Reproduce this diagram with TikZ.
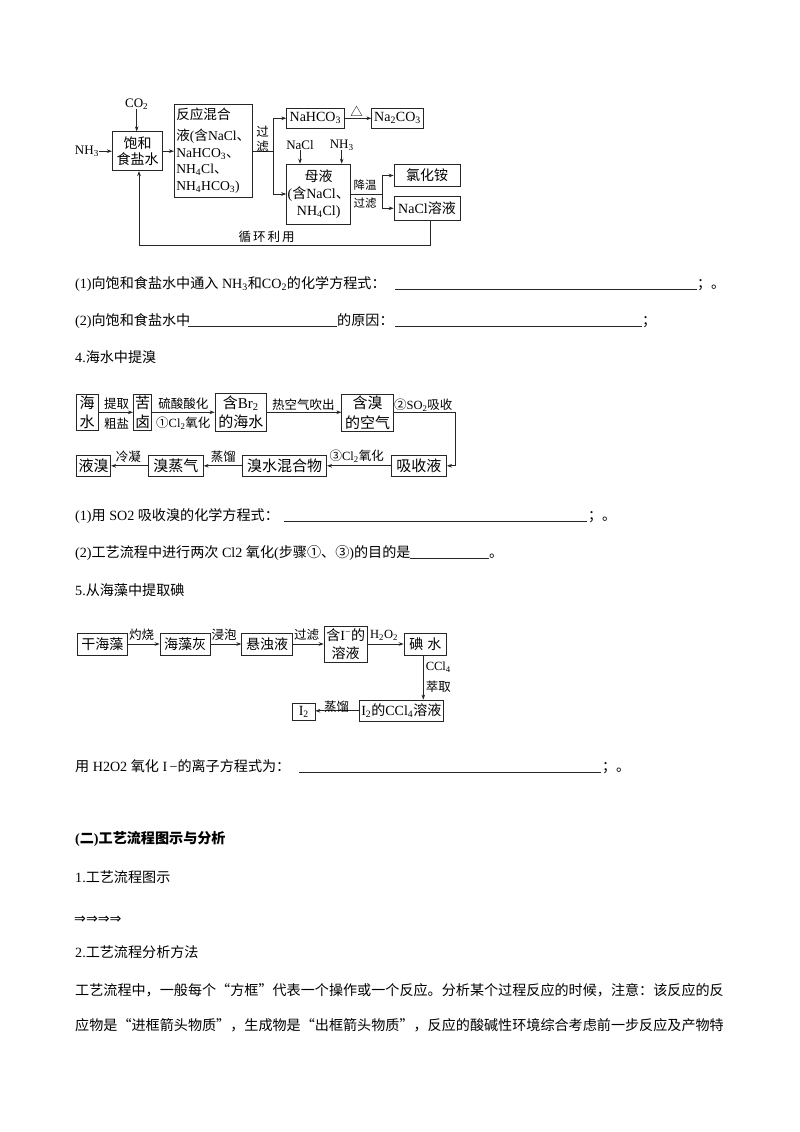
\documentclass[tikz,border=0pt]{standalone}
\usepackage{fontspec}
\setmainfont{Liberation Serif}
\newfontfamily\cjk{Noto Sans CJK SC}
\newfontfamily\cjkq[RawFeature=+fwid]{Noto Sans CJK SC}
\newfontfamily\symf{DejaVu Sans}
\usetikzlibrary{arrows.meta}
\XeTeXinterchartokenstate=1
\newXeTeXintercharclass\CJKcl
\newcount\cjkc
\def\setcjkrange#1#2{\cjkc=#1\relax\loop\XeTeXcharclass\cjkc=\CJKcl\relax\ifnum\cjkc<#2\relax\advance\cjkc by 1\relax\repeat}
\setcjkrange{"4E00}{"9FFF}
\setcjkrange{"3000}{"303F}
\setcjkrange{"FF00}{"FFEF}
\setcjkrange{"2460}{"2473}
\XeTeXcharclass"25B3=\CJKcl
\XeTeXinterchartoks 0 \CJKcl = {\begingroup\cjk}
\XeTeXinterchartoks 4095 \CJKcl = {\begingroup\cjk}
\XeTeXinterchartoks \CJKcl 0 = {\endgroup}
\XeTeXinterchartoks \CJKcl 4095 = {\endgroup}
\newcommand\dn[1]{\textsubscript{#1}}
\newcommand\qo{{\cjkq “}}
\newcommand\qc{{\cjkq ”}}
\begin{document}
\begin{tikzpicture}[x=1pt,y=-1pt,
  ln/.style={line width=0.7pt, draw=black!85},
  arr/.style={ln, -{Stealth[length=5pt,width=3.6pt]}},
  box/.style={ln, draw, inner sep=1pt, align=center, font=\fontsize{14}{16.7}\selectfont},
  bbox/.style={box, font=\fontsize{15}{19.5}\selectfont},
  lbl/.style={inner sep=0pt, align=center, font=\fontsize{12.5}{15}\selectfont},
  tx/.style={anchor=base west, inner sep=0pt, font=\fontsize{14.1}{17}\selectfont},
  ul/.style={line width=0.6pt, draw=black!85},
]
\fill[white] (0,0) rectangle (800,1132);
\useasboundingbox (0,0) rectangle (800,1132);

% ---------- diagram 1 ----------
\node[box, minimum width=50.4, minimum height=39] (sat) at (137.5,151.2) {饱和\\食盐水};
\node[lbl, font=\fontsize{13}{15}\selectfont] (co2) at (136.7,104) {CO\dn2};
\draw[arr] (co2.south) -- (co2.south |- sat.north);
\node[lbl, anchor=east, font=\fontsize{13}{15}\selectfont] (nh3a) at (99,151.5) {NH\dn3};
\draw[arr] (nh3a.east |- sat.west) -- (sat.west);
\node[box, align=left, minimum width=76.7, minimum height=93.3, inner sep=2pt, font=\fontsize{13.6}{16.8}\selectfont] (mix) at (213.3,150.7) {反应混合\\[4pt]液(含NaCl、\\NaHCO\dn3、\\NH\dn4Cl、\\NH\dn4HCO\dn3)};
\draw[arr] (sat.east) -- (sat.east -| mix.west);
\coordinate (sp1) at (273.3,151.7);
\draw[ln] (mix.east |- sp1) -- (sp1);
\node[lbl] (glv) at (262.5,139.5) {过\\滤};
\node[box, minimum width=57.3, minimum height=20] (nahco3) at (315.3,118.3) {NaHCO\dn3};
\node[box, minimum width=51.6, minimum height=20] (na2co3) at (397.5,118.3) {Na\dn2CO\dn3};
\node[box, minimum width=64, minimum height=60] (mother) at (318.7,194) {母液\\(含NaCl、\\NH\dn4Cl)};
\draw[arr] (sp1) |- (nahco3.west);
\draw[arr] (sp1) |- (mother.west);
\draw[arr] (nahco3.east) -- (na2co3.west);
\node[lbl] (delta) at (356.7,111) {△};
\node[lbl, font=\fontsize{13}{15}\selectfont] (nacl) at (300,145) {NaCl};
\node[lbl, font=\fontsize{13}{15}\selectfont] (nh3b) at (341.7,145) {NH\dn3};
\draw[arr] (nacl.south) -- (nacl.south |- mother.north);
\draw[arr] (nh3b.south) -- (nh3b.south |- mother.north);
\coordinate (sp2) at (382.7,194);
\draw[ln] (mother.east) -- (sp2);
\node[box, minimum width=66, minimum height=22.4] (nh4cl) at (427,175.5) {氯化铵};
\node[box, minimum width=66, minimum height=23.3] (naclsol) at (427,208.3) {NaCl溶液};
\draw[arr] (sp2) |- (nh4cl.west);
\draw[arr] (sp2) |- (naclsol.west);
\node[lbl, font=\fontsize{11.5}{18}\selectfont] (cool) at (365,194) {降温\\过滤};
\coordinate (rc) at (139,245);
\draw[arr] ([xshift=3pt]naclsol.south) |- (rc) -- (rc |- sat.south);
\node[lbl] (recyc) at (266.7,237) {循\hspace{2pt}环\hspace{2pt}利\hspace{2pt}用};

% ---------- text block 1 ----------
\node[tx] (t1) at (75,288) {(1)向饱和食盐水中通入 NH\dn3和CO\dn2的化学方程式：};
\draw[ul] (395,289) -- (697,289);
\node[tx] (t1e) at (697,288) {；};
\node[tx] (t1f) at (711,288) {。};
\node[tx] (t2) at (75,325) {(2)向饱和食盐水中};
\draw[ul] (188,326) -- (337,326);
\node[tx] (t2b) at (337,325) {的原因：};
\draw[ul] (395,326) -- (642,326);
\node[tx] (t2e) at (642,325) {；};
\node[tx] (t3) at (75,362) {4.海水中提溴};

% ---------- diagram 2 ----------
\node[bbox, minimum width=22.3, minimum height=35.7, inner sep=0pt] (hs) at (87.2,412.3) {海\\水};
\node[bbox, minimum width=18.4, minimum height=35.7, inner sep=0pt] (kl) at (142.5,412.3) {苦\\卤};
\node[bbox, minimum width=51.7, minimum height=37.7] (hbr) at (240.8,412.3) {含Br\dn2\\的海水};
\node[bbox, minimum width=51.6, minimum height=37.4] (air) at (367.5,413) {含溴\\的空气};
\draw[arr] (hs.east) -- (kl.west);
\draw[arr] (kl.east) -- (hbr.west);
\draw[arr] (hbr.east) -- (hbr.east -| air.west);
\node[lbl] (l1a) at (116.7,403.5) {提取};
\node[lbl] (l1b) at (116.7,423.5) {粗盐};
\node[lbl] (l2a) at (183.3,404) {硫酸酸化};
\node[lbl] (l2b) at (183.3,423.5) {①Cl\dn2氧化};
\node[lbl] (l3) at (303.3,405) {热空气吹出};
\node[lbl] (l4) at (423.3,405) {②SO\dn2吸收};
\node[bbox, minimum width=55.7, minimum height=21.7] (abs) at (418.8,465.8) {吸收液};
\coordinate (c1) at (455,412.3);
\draw[arr] (hbr.east -| air.east) -- (c1) |- (abs.east);
\node[bbox, minimum width=84, minimum height=21.7] (bsm) at (284.7,465.8) {溴水混合物};
\node[bbox, minimum width=55, minimum height=21.7] (bzq) at (175.8,465.8) {溴蒸气};
\node[bbox, minimum width=34, minimum height=21.7] (yx) at (93.7,465.8) {液溴};
\draw[arr] (abs.west) -- (bsm.east);
\draw[arr] (bsm.west) -- (bzq.east);
\draw[arr] (bzq.west) -- (yx.east);
\node[lbl] (l5) at (356.7,456.5) {③Cl\dn2氧化};
\node[lbl] (l6) at (223.3,457) {蒸馏};
\node[lbl] (l7) at (128.3,456.5) {冷凝};

% ---------- text block 2 ----------
\node[tx] (t4) at (75,520) {(1)用 SO2 吸收溴的化学方程式：};
\draw[ul] (284,521) -- (587,521);
\node[tx] (t4e) at (588,520) {；};
\node[tx] (t4f) at (602,520) {。};
\node[tx] (t5) at (75,557) {(2)工艺流程中进行两次 Cl2 氧化(步骤①、③)的目的是};
\draw[ul] (410,558) -- (489,558);
\node[tx] (t5e) at (489,557) {。};
\node[tx] (t6) at (75,595) {5.从海藻中提取碘};

% ---------- diagram 3 ----------
\node[box, minimum width=50, minimum height=22.3] (dry) at (102.3,644) {干海藻};
\node[box, minimum width=50, minimum height=22.3] (ash) at (185,644) {海藻灰};
\node[box, minimum width=51, minimum height=22.3] (susp) at (267.2,644) {悬浊液};
\node[box, minimum width=43.3, minimum height=36.6, font=\fontsize{14}{18}\selectfont] (icont) at (345.7,644.5) {含I\textsuperscript{−}的\\溶液};
\node[box, minimum width=42.7, minimum height=21.7] (iw) at (425.3,644) {碘\hspace{4pt}水};
\node[box, minimum width=84, minimum height=21.7] (ccl) at (401.3,710.8) {I\dn2的CCl\dn4溶液};
\node[box, minimum width=22.3, minimum height=16.7, inner sep=0pt] (i2) at (303.8,711.5) {I\dn2};
\draw[arr] (dry.east) -- (ash.west);
\draw[arr] (ash.east) -- (susp.west);
\draw[arr] (susp.east) -- (susp.east -| icont.west);
\draw[arr] (susp.east -| icont.east) -- (iw.west);
\draw[arr] ([xshift=-2pt]iw.south) -- ([xshift=-2pt]iw.south |- ccl.north);
\draw[arr] (ccl.west) -- (ccl.west -| i2.east);
\node[lbl] (m1) at (141.7,635) {灼烧};
\node[lbl] (m2) at (224,635) {浸泡};
\node[lbl] (m3) at (306.7,635) {过滤};
\node[lbl] (m4) at (384,635) {H\dn2O\dn2};
\node[lbl] (m5) at (438.3,667) {CCl\dn4};
\node[lbl] (m6) at (438.3,687) {萃取};
\node[lbl] (m7) at (336.7,707) {蒸馏};

% ---------- text block 3 ----------
\node[tx] (t7) at (75,771) {用 H2O2 氧化 I\,−的离子方程式为：};
\draw[ul] (299,772) -- (601,772);
\node[tx] (t7e) at (602,771) {；};
\node[tx] (t7f) at (616,771) {。};
\node[tx, font=\fontsize{14.1}{17}\selectfont\bfseries] (t8) at (75,843) {(二)工艺流程图示与分析};
\node[tx] (t9) at (75,882) {1.工艺流程图示};
\node[tx, font=\fontsize{14.1}{17}\selectfont\symf] (t10) at (74,923) {⇒⇒⇒⇒};
\node[tx] (t11) at (75,957) {2.工艺流程分析方法};
\node[tx, font=\fontsize{14.1}{17}\selectfont] (t12) at (75,995) {工艺流程中，一般每个\qo 方框\qc 代表一个操作或一个反应。分析某个过程反应的时候，注意：该反应的反};
\node[tx, font=\fontsize{14.1}{17}\selectfont] (t13) at (75,1030) {应物是\qo 进框箭头物质\qc ，生成物是\qo 出框箭头物质\qc ，反应的酸碱性环境综合考虑前一步反应及产物特};
\end{tikzpicture}
\end{document}
